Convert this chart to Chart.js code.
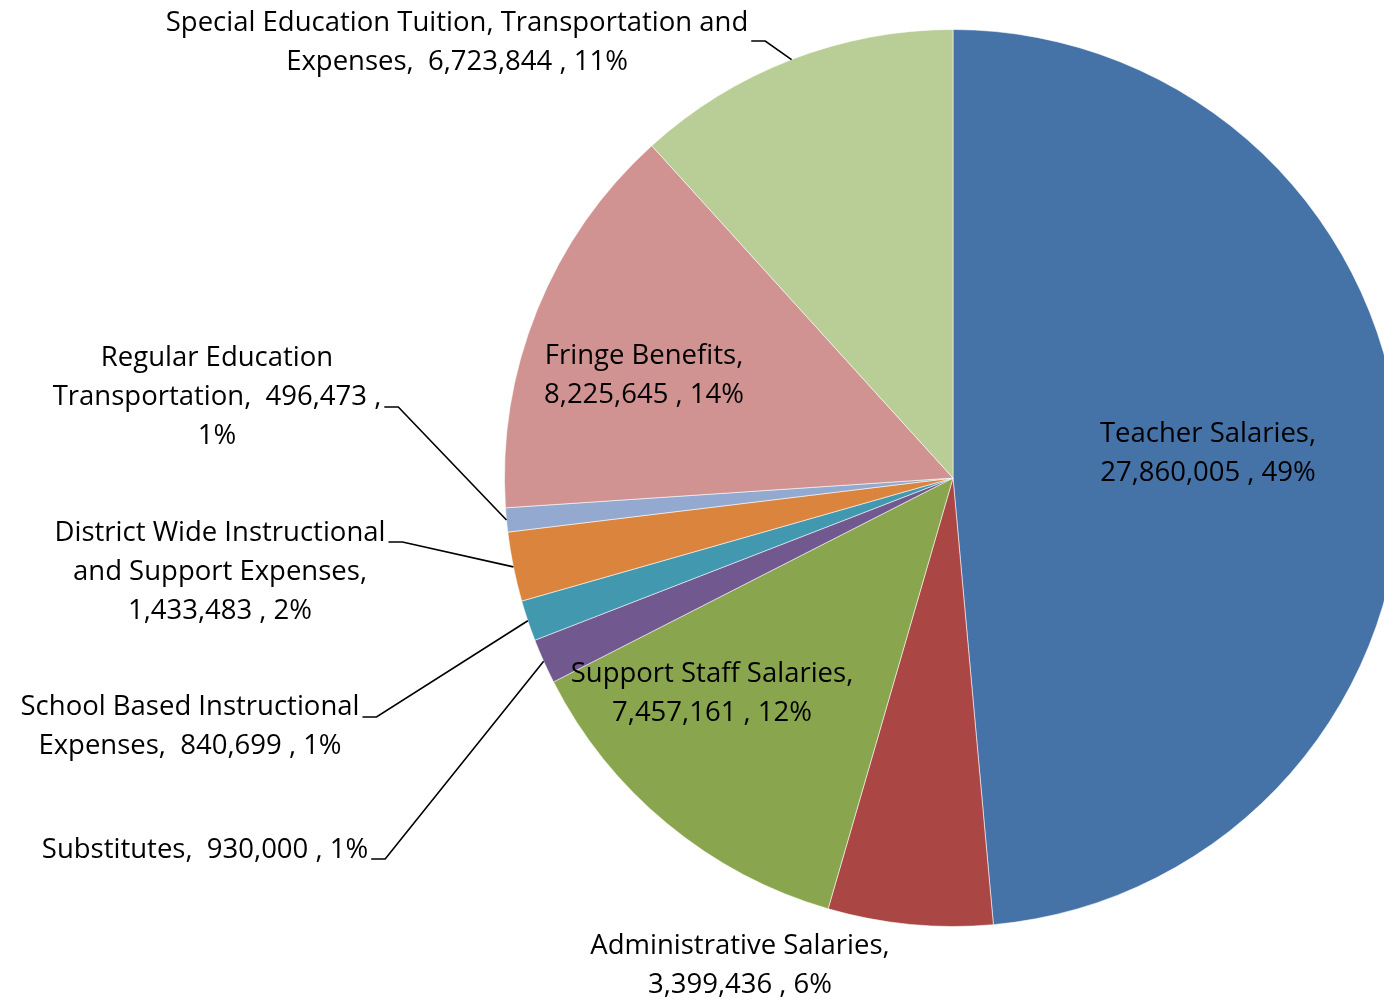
<!DOCTYPE html>
<html><head><meta charset="utf-8">
<script src="https://cdn.jsdelivr.net/npm/chart.js@4/dist/chart.umd.min.js"></script>
<style>
html,body{margin:0;padding:0;overflow:hidden;background:#fff;width:1384px;height:1000px}
#wrap{position:absolute;left:0;top:0;width:1420px;height:1000px}
</style>
</head><body><div id="wrap"><canvas id="c" width="1420" height="1000"></canvas></div>
<script>
// ---- data ----
const categories = [
  "Teacher Salaries",
  "Administrative Salaries",
  "Support Staff Salaries",
  "Substitutes",
  "School Based Instructional Expenses",
  "District Wide Instructional and Support Expenses",
  "Regular Education Transportation",
  "Fringe Benefits",
  "Special Education Tuition, Transportation and Expenses"
];
const values = [27860005, 3399436, 7457161, 930000, 840699, 1433483, 496473, 8225645, 6723844];
const percentLabels = ["49%", "6%", "12%", "1%", "1%", "2%", "1%", "14%", "11%"];
const colors = ["#4572A7", "#AA4643", "#89A54E", "#71588F", "#4198AF", "#DB843D", "#93A9CF", "#D19392", "#B9CD96"];

// ---- label layout (px offsets from pie centre; words per wrapped line; leader) ----
const labelWrap = [[2,3],[2,3],[3,3],[4],[3,4],[3,3,3],[2,3,1],[2,3],[5,4]];
const labelOffset = [[255,-44],[-213,468],[-241,196],[-748,372],[-763,229],[-733,55],[-736,-120],[-309,-122],[-496,-455]];
// [line index to attach, y offset] or null
const labelLeader = [null,null,null,[0,9],[0,10],[0,9],[1,10],null,[0,18]];

const FONT = '27.5px "Open Sans"';
const LINE_H = 39;

function labelLines(i){
  const words = categories[i].split(' ');
  words[words.length-1] += ',';
  const tokens = words.concat([values[i].toLocaleString('en-US'), ',', percentLabels[i]]);
  const catN = words.length;
  const lines = [];
  let k = 0;
  for (const n of labelWrap[i]) {
    let s = '';
    for (let j = 0; j < n; j++, k++) {
      if (j > 0) s += (k === catN ? '  ' : ' ');
      s += tokens[k];
    }
    lines.push(s);
  }
  return lines;
}

const labelPlugin = {
  id: 'pieLabels',
  afterDatasetsDraw(chart) {
    const ctx = chart.ctx;
    const meta = chart.getDatasetMeta(0);
    ctx.save();
    ctx.font = FONT;
    ctx.fillStyle = '#000';
    ctx.textAlign = 'center';
    ctx.textBaseline = 'middle';
    meta.data.forEach((arc, i) => {
      const p = arc.getProps(['x','y','startAngle','endAngle','outerRadius'], true);
      const cx = p.x + labelOffset[i][0];
      const cy0 = p.y + labelOffset[i][1];
      const lines = labelLines(i);
      lines.forEach((ln, j) => ctx.fillText(ln, cx, cy0 + j * LINE_H));
      const ld = labelLeader[i];
      if (ld) {
        const w = ctx.measureText(lines[ld[0]]).width;
        const x0 = cx + w / 2 + 3;
        const y0 = cy0 + ld[0] * LINE_H + ld[1];
        const mid = (p.startAngle + p.endAngle) / 2;
        const ex = p.x + Math.cos(mid) * p.outerRadius;
        const ey = p.y + Math.sin(mid) * p.outerRadius;
        ctx.beginPath();
        ctx.strokeStyle = '#000';
        ctx.lineWidth = 1.6;
        ctx.moveTo(x0, y0);
        ctx.lineTo(x0 + 14, y0);
        ctx.lineTo(ex, ey);
        ctx.stroke();
      }
    });
    ctx.restore();
  }
};

new Chart(document.getElementById('c'), {
  type: 'pie',
  data: {
    labels: categories,
    datasets: [{
      data: values,
      backgroundColor: colors,
      borderColor: 'rgba(255,255,255,0.55)',
      borderWidth: 1
    }]
  },
  options: {
    responsive: false,
    animation: false,
    devicePixelRatio: 1,
    layout: { padding: { left: 504, right: 18, top: 29, bottom: 73 } },
    plugins: { legend: { display: false }, tooltip: { enabled: false } }
  },
  plugins: [labelPlugin]
});
</script>
</body></html>
